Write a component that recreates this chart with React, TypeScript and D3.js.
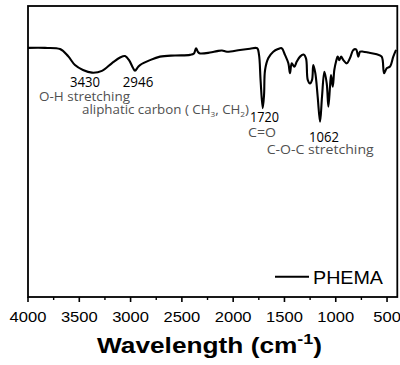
import React from "react";
import * as d3 from "d3";

const wavenumbers = [
  4000, 3834, 3688, 3610, 3542, 3464, 3376, 3279, 3181, 3103, 3054, 3015, 2976, 2957, 2928,
  2908, 2811, 2713, 2567, 2421, 2382, 2362, 2343, 2323, 2226, 2157, 2109, 2060, 1933, 1836,
  1767, 1748, 1733, 1712, 1699, 1689, 1657, 1609, 1563, 1527, 1495, 1462, 1446, 1429, 1404,
  1380, 1348, 1314, 1290, 1273, 1251, 1231, 1219, 1199, 1176, 1153, 1134, 1111, 1088, 1072,
  1056, 1046, 1029, 1014, 997, 981, 965, 948, 926, 893, 861, 829, 802, 780, 763, 731, 682,
  600, 552, 529, 503, 471, 439, 412,
];
const transmittance = [
  85.6, 85.6, 85.2, 82.8, 79.7, 78.0, 77.1, 77.7, 80.4, 82.3, 82.8, 81.4, 78.7, 77.8, 79.0,
  79.7, 81.4, 82.6, 83.0, 83.2, 83.7, 85.5, 84.2, 83.7, 84.0, 84.5, 84.7, 84.3, 84.9, 85.3,
  85.5, 83.2, 74.6, 64.9, 69.4, 78.0, 82.1, 84.3, 85.2, 85.5, 83.2, 80.3, 76.9, 80.3, 79.1,
  80.9, 82.6, 83.3, 82.0, 74.6, 73.4, 74.6, 79.7, 76.9, 68.8, 60.2, 68.8, 77.4, 73.4, 65.4,
  72.3, 76.3, 72.3, 78.0, 80.9, 82.6, 81.4, 82.6, 81.4, 80.3, 82.1, 84.9, 85.1, 82.6, 84.3,
  84.3, 84.0, 83.4, 82.6, 76.9, 78.6, 79.2, 82.6, 84.9,
];
const majorTicks = [4000, 3500, 3000, 2500, 2000, 1500, 1000, 500];
const minorTicks = [3750, 3250, 2750, 2250, 1750, 1250, 750];
const seriesName = "PHEMA";
const peakLabels = ["3430", "2946", "1720", "1062"];
const assignLabels = ["O-H stretching", "C=O", "C-O-C stretching"];

const W = 400;
const H = 365;
const left = 28;
const right = 397.3;
const top = 6;
const bottom = 297;

export default function App() {
  const x = d3.scaleLinear().domain([4000, 400]).range([left, right]);
  const y = d3.scaleLinear().domain([0, 100]).range([bottom, top]);
  const data = wavenumbers.map((w, i) => [w, transmittance[i]] as [number, number]);
  const line = d3
    .line<[number, number]>()
    .x((d) => x(d[0]))
    .y((d) => y(d[1]))
    .curve(d3.curveCatmullRom.alpha(0.5));

  const annFont = "'Open Sans', Lato, sans-serif";
  const axFont = "'Liberation Sans', Arial, sans-serif";
  const adj = "spacingAndGlyphs";

  return (
    <svg
      width={W}
      height={H}
      style={{ position: "absolute", left: 0, top: 0, background: "#fff" }}
    >
      <rect x={0} y={0} width={W} height={H} fill="#fff" />
      <path d={line(data) || ""} fill="none" stroke="#000" strokeWidth={2.1} strokeLinejoin="round" />
      <rect
        x={left}
        y={top}
        width={right - left}
        height={bottom - top}
        fill="none"
        stroke="#000"
        strokeWidth={1.8}
      />
      {majorTicks.map((t) => (
        <g key={"M" + t}>
          <line x1={x(t)} x2={x(t)} y1={bottom} y2={bottom + 5} stroke="#000" strokeWidth={1.6} />
          <text
            x={x(t)}
            y={bottom + 25}
            textAnchor="middle"
            fontFamily={axFont}
            fontSize={15}
            textLength={String(t).length * 9.2}
            lengthAdjust={adj}
            fill="#000"
          >
            {t}
          </text>
        </g>
      ))}
      {minorTicks.map((t) => (
        <line key={"m" + t} x1={x(t)} x2={x(t)} y1={bottom} y2={bottom + 3} stroke="#000" strokeWidth={1.4} />
      ))}
      <text
        x={97}
        y={353}
        fontFamily={axFont}
        fontWeight="bold"
        fontSize={22}
        textLength={225}
        lengthAdjust={adj}
        fill="#000"
      >
        Wavelength (cm
        <tspan fontSize={15} dy={-9}>-1</tspan>
        <tspan dy={9}>)</tspan>
      </text>
      {/* legend */}
      <line x1={275} x2={309} y1={276.7} y2={276.7} stroke="#000" strokeWidth={2} />
      <text x={313} y={283.5} fontFamily={axFont} fontSize={18} textLength={70} lengthAdjust={adj} fill="#000">
        {seriesName}
      </text>
      {/* annotations */}
      <g fontFamily={annFont}>
        <text x={70} y={87} fontSize={14} textLength={30} lengthAdjust={adj} fill="#000">{peakLabels[0]}</text>
        <text x={122.7} y={87} fontSize={14} textLength={30.6} lengthAdjust={adj} fill="#000">{peakLabels[1]}</text>
        <text x={250} y={122} fontSize={14} textLength={29} lengthAdjust={adj} fill="#000">{peakLabels[2]}</text>
        <text x={309} y={142} fontSize={14} textLength={30} lengthAdjust={adj} fill="#000">{peakLabels[3]}</text>
        <text x={39} y={100.5} fontSize={13} textLength={91} lengthAdjust={adj} fill="#505050">{assignLabels[0]}</text>
        <text x={82} y={113.5} fontSize={13} textLength={167} lengthAdjust={adj} fill="#505050">
          aliphatic carbon ( CH<tspan fontSize={8} dy={3}>3</tspan>
          <tspan dy={-3}>, CH</tspan>
          <tspan fontSize={8} dy={3}>2</tspan>
          <tspan dy={-3}>)</tspan>
        </text>
        <text x={248} y={136.5} fontSize={13} textLength={28} lengthAdjust={adj} fill="#505050">{assignLabels[1]}</text>
        <text x={266.7} y={154} fontSize={13} textLength={107} lengthAdjust={adj} fill="#505050">{assignLabels[2]}</text>
      </g>
    </svg>
  );
}
